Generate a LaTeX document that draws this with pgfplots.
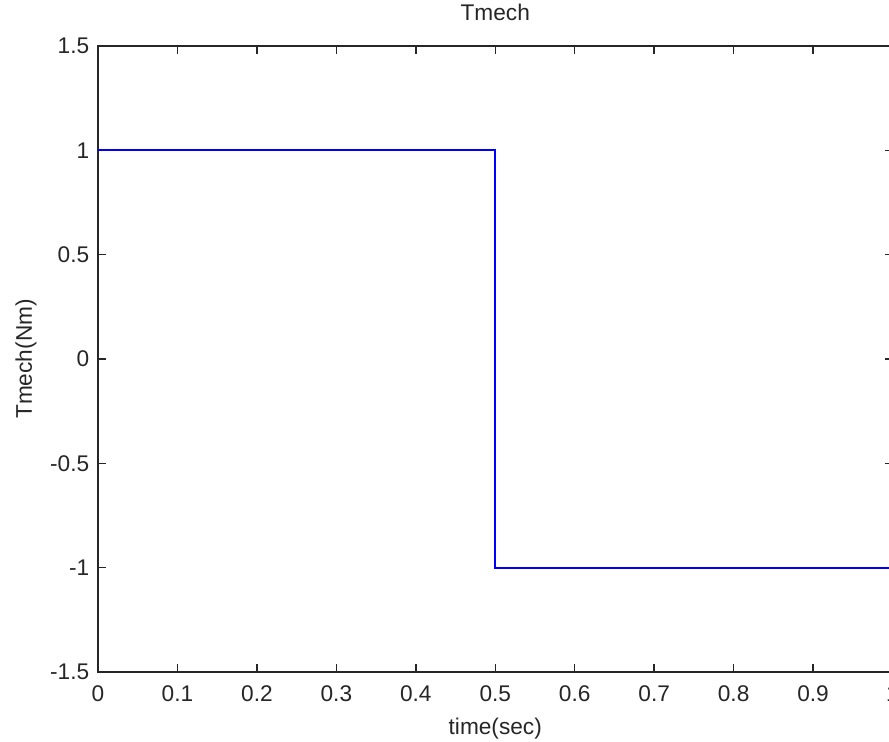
\documentclass[border=0pt]{standalone}
\usepackage{fontspec}
\setmainfont{Liberation Sans}
\usepackage{pgfplots}
\pgfplotsset{compat=1.18}
\definecolor{traceblue}{RGB}{0,0,255}
\definecolor{axisgray}{RGB}{38,38,38}

\begin{document}
\begin{tikzpicture}
\begin{axis}[
  at={(0,0)}, anchor=south west,
  scale only axis,
  width=595.9pt, height=469.5pt,
  xmin=0, xmax=1, ymin=-1.5, ymax=1.5,
  xtick={0,0.1,0.2,0.3,0.4,0.5,0.6,0.7,0.8,0.9,1},
  xticklabels={0,0.1,0.2,0.3,0.4,0.5,0.6,0.7,0.8,0.9,1},
  ytick={-1.5,-1,-0.5,0,0.5,1,1.5},
  yticklabels={-1.5,-1,-0.5,0,0.5,1,1.5},
  tick align=inside,
  major tick length=6pt,
  axis line style={axisgray, line width=1.1pt},
  tick style={axisgray, line width=1.1pt},
  font=\fontsize{17}{20}\selectfont,
  xticklabel style={anchor=base, inner sep=0pt, yshift=-22.5pt, text=axisgray},
  yticklabel style={anchor=east, inner sep=0pt, xshift=-6.4pt, text=axisgray},
  title={Tmech},
  title style={at={(axis description cs:0.5,1)}, anchor=base, inner sep=0pt, yshift=13.3pt, text=axisgray},
  xlabel={time(sec)},
  xlabel style={at={(axis description cs:0.5,0)}, anchor=base, inner sep=0pt, yshift=-47.25pt, text=axisgray},
  ylabel={Tmech(Nm)},
  % the label is already turned by 90 degrees, so its own y axis points left
  ylabel style={at={(axis description cs:0,0.5)}, anchor=base, inner sep=0pt, yshift=49.5pt, text=axisgray},
]
\addplot[draw=traceblue, line width=1.3pt, mark=none] coordinates {
  (0,1) (0.5,1) (0.5,-1) (1,-1)
};
\end{axis}
\pgfresetboundingbox
\useasboundingbox (-73.5pt,-52.5pt) rectangle (593.25pt,504pt);
\end{tikzpicture}
\end{document}
